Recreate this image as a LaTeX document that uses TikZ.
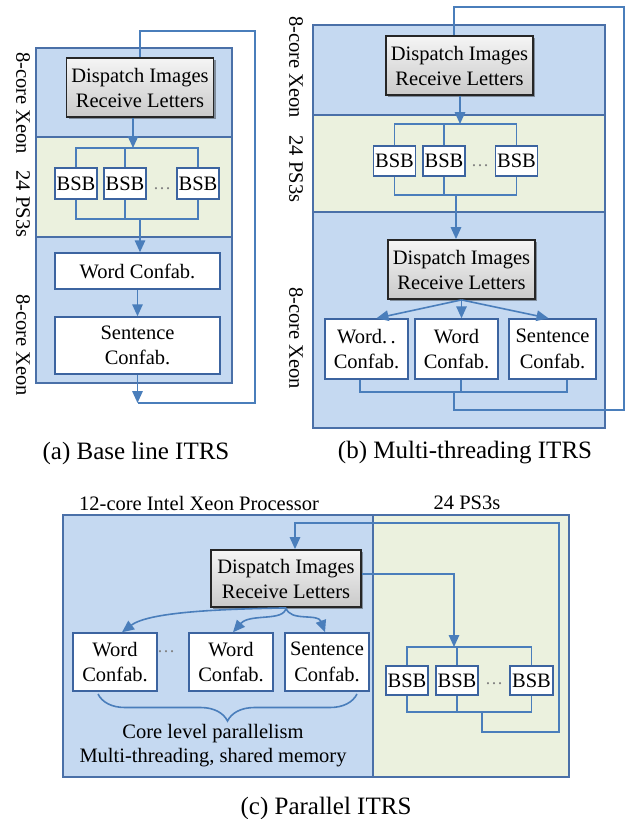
\documentclass[tikz,border=0pt]{standalone}
\usepackage{fontspec}
\setmainfont{Liberation Serif}
\usetikzlibrary{arrows.meta,shadows,decorations.pathreplacing,calc}

\definecolor{paneBlue}{RGB}{197,217,241}
\definecolor{paneGreen}{RGB}{235,241,222}
\definecolor{edgeBlue}{RGB}{74,112,168}
\definecolor{wireBlue}{RGB}{74,126,187}
\definecolor{boxEdge}{RGB}{60,100,160}

\begin{document}
\begin{tikzpicture}[x=1pt,y=-1pt,
  pane/.style={draw=edgeBlue,line width=1.4pt},
  wire/.style={draw=wireBlue,line width=1.6pt},
  arr/.style={wire,-{Triangle[width=10.5pt,length=12pt]}},
  dispbox/.style={draw=black!85,line width=1.8pt,top color=gray!8,bottom color=gray!42,
    drop shadow={shadow xshift=2pt,shadow yshift=-2pt,opacity=0.35,fill=black},
    minimum width=147pt,minimum height=59pt,align=center,inner sep=0pt,
    font=\fontsize{20.5}{25}\selectfont},
  bsb/.style={draw=boxEdge,fill=white,line width=1.5pt,minimum width=42pt,
    minimum height=31pt,inner sep=0pt,font=\fontsize{20.5}{24}\selectfont},
  task/.style={draw=boxEdge,fill=white,line width=1.5pt,align=center,inner sep=0pt,
    font=\fontsize{20.5}{25.5}\selectfont},
  gap/.style={text=gray,inner sep=0pt,font=\fontsize{18}{20}\selectfont},
  side/.style={rotate=-90,inner sep=0pt,font=\fontsize{20.5}{24}\selectfont},
  lbl/.style={inner sep=0pt,align=center,font=\fontsize{20.5}{24}\selectfont},
  caption/.style={inner sep=0pt,font=\fontsize{25}{30}\selectfont}
]
\useasboundingbox (0,0) rectangle (632,819);

% ---------------- (a) Base line ITRS ----------------
\fill[paneBlue] (36,48) rectangle (232,383);
\fill[paneGreen] (36,137) rectangle (232,237);
\draw[pane] (36,48) rectangle (232,383) (36,137) -- (232,137) (36,237) -- (232,237);

\node[side] (aL1) at (23,103) {8-core Xeon};
\node[side] (aL2) at (23,204) {24 PS3s};
\node[side] (aL3) at (23,345) {8-core Xeon};

\node[dispbox] (aD) at (140,87.5) {Dispatch Images\\Receive Letters};
\node[bsb] (aB1) at (76,183.5) {BSB};
\node[bsb] (aB2) at (125,183.5) {BSB};
\node[bsb] (aB3) at (198,183.5) {BSB};
\node[gap] (aDots) at (162,189) {\ldots};
\node[task,minimum width=165pt,minimum height=36pt] (aW) at (137.5,271) {Word Confab.};
\node[task,minimum width=165pt,minimum height=57pt] (aS) at (137.5,345.5) {Sentence\\Confab.};

\coordinate (aTop) at (133,148);
\coordinate (aBot) at (140,219);
\coordinate (aLoop) at (138,403);
\coordinate (aRise) at (255,31);

\draw[arr] (aD.south -| aTop) -- (aTop);
\draw[wire] (aB1.north) -- (aB1.north |- aTop) -- (aB3.north |- aTop) -- (aB3.north);
\draw[wire] (aB2.north) -- (aB2.north |- aTop);
\draw[wire] (aB1.south) -- (aB1.south |- aBot) -- (aB3.south |- aBot) -- (aB3.south);
\draw[wire] (aB2.south) -- (aB2.south |- aBot);
\draw[arr] (aBot) -- (aW.north -| aBot);
\draw[arr] (aW.south) -- (aS.north);
\draw[arr] (aS.south) -- (aS.south |- aLoop);
\draw[wire] (aS.south |- aLoop) -| (aRise) -| (aD.north);

\node[caption] (aCap) at (136,453) {(a) Base line ITRS};

% ---------------- (b) Multi-threading ITRS ----------------
\fill[paneBlue] (313,25) rectangle (605,428);
\fill[paneGreen] (313,115) rectangle (605,212);
\draw[pane] (313,25) rectangle (605,428) (313,115) -- (605,115) (313,212) -- (605,212);

\node[side] (bL1) at (296,67) {8-core Xeon};
\node[side] (bL2) at (296,169) {24 PS3s};
\node[side] (bL3) at (296,338) {8-core Xeon};

\node[dispbox] (bD1) at (459.5,65.5) {Dispatch Images\\Receive Letters};
\node[bsb,minimum height=30pt] (bB1) at (394.5,161) {BSB};
\node[bsb,minimum height=30pt] (bB2) at (444,161) {BSB};
\node[bsb,minimum height=30pt] (bB3) at (516.5,161) {BSB};
\node[gap] (bDots) at (480,166) {\ldots};
\node[dispbox] (bD2) at (461.5,269.5) {Dispatch Images\\Receive Letters};
\node[task,minimum width=83pt,minimum height=60pt] (bW1) at (366.5,349) {Word.\,.\\Confab.};
\node[task,minimum width=83pt,minimum height=60pt] (bW2) at (456.5,349) {Word\\Confab.};
\node[task,minimum width=87pt,minimum height=60pt] (bS) at (552.5,349) {Sentence\\Confab.};

\coordinate (bTop) at (460,124);
\coordinate (bBot) at (456,195);
\coordinate (bJoin) at (454,392);
\coordinate (bLoop) at (454,410);
\coordinate (bRise) at (624,7);

\draw[arr] (bD1.south -| bTop) -- (bTop);
\draw[wire] (bB1.north) -- (bB1.north |- bTop) -- (bB3.north |- bTop) -- (bB3.north);
\draw[wire] (bB2.north) -- (bB2.north |- bTop);
\draw[wire] (bB1.south) -- (bB1.south |- bBot) -- (bB3.south |- bBot) -- (bB3.south);
\draw[wire] (bB2.south) -- (bB2.south |- bBot);
\draw[arr] (bBot) -- (bD2.north -| bBot);
\draw[arr] (bD2.south) -- ([xshift=10pt]bW1.north);
\draw[arr] (bD2.south) -- (bD2.south |- bW2.north);
\draw[arr] (bD2.south) -- ([xshift=-4pt]bS.north);
\draw[wire] ([xshift=-6.5pt]bW1.south) |- (bJoin) -| ([xshift=14.5pt]bS.south);
\draw[wire] ([xshift=4.5pt]bW2.south) -- ([xshift=4.5pt]bW2.south |- bJoin);
\draw[wire] (bJoin) -- (bLoop) -| (bRise) -| ([xshift=-5.5pt]bD1.north);

\node[caption] (bCap) at (465,453) {(b) Multi-threading ITRS};

% ---------------- (c) Parallel ITRS ----------------
\fill[paneBlue] (63,515) rectangle (373,777);
\fill[paneGreen] (373,515) rectangle (569,777);
\draw[pane] (63,515) rectangle (569,777) (373,515) -- (373,777);

\node[lbl] (cT1) at (199,503) {12-core Intel Xeon Processor};
\node[lbl] (cT2) at (467,503) {24 PS3s};

\node[dispbox,minimum width=150pt,minimum height=57pt] (cD) at (286,578.5) {Dispatch Images\\Receive Letters};
\node[bsb,minimum height=29pt] (cB1) at (407,680.5) {BSB};
\node[bsb,minimum height=29pt] (cB2) at (457,680.5) {BSB};
\node[bsb,minimum height=29pt,minimum width=43pt] (cB3) at (531.5,680.5) {BSB};
\node[gap] (cDots) at (494,684) {\ldots};
\node[task,minimum width=84pt,minimum height=58pt] (cW1) at (115,662) {Word\\Confab.};
\node[task,minimum width=84pt,minimum height=58pt] (cW2) at (231,662) {Word\\Confab.};
\node[task,minimum width=84pt,minimum height=58pt] (cS) at (327,662) {Sentence\\Confab.};
\node[gap] (cWDots) at (166,652) {\ldots};

\coordinate (cOut) at (373,574);
\coordinate (cTop) at (454,647);
\coordinate (cBot) at (482,712);
\coordinate (cLoop) at (559,732);
\coordinate (cIn) at (295,523);

\draw[arr] (cD.east |- cOut) -| (cTop);
\draw[wire] (cB1.north) -- (cB1.north |- cTop) -- (cB3.north |- cTop) -- (cB3.north);
\draw[wire] (cB2.north) -- (cB2.north |- cTop);
\draw[wire] (cB1.south) -- (cB1.south |- cBot) -- (cB3.south |- cBot) -- (cB3.south);
\draw[wire] (cB2.south) -- (cB2.south |- cBot);
\draw[arr] (cBot) |- (cLoop) |- (cIn) -- (cIn |- cD.north);

\draw[arr] (cD.south) .. controls (230,609) and (150,611) .. ([xshift=7pt]cW1.north);
\draw[arr] (cD.south) .. controls (284,622) and (250,613) .. ([xshift=2pt]cW2.north);
\draw[arr] (cD.south) .. controls (290,622) and (318,613) .. ([xshift=-2pt]cS.north);

\draw[wire,decorate,decoration={brace,amplitude=27pt,mirror}] (98,694) -- (357,694);
\node[lbl] (cNote) at (213,746) {Core level parallelism\\Multi-threading, shared memory};

\node[caption] (cCap) at (326,808) {(c) Parallel ITRS};
\end{tikzpicture}
\end{document}
